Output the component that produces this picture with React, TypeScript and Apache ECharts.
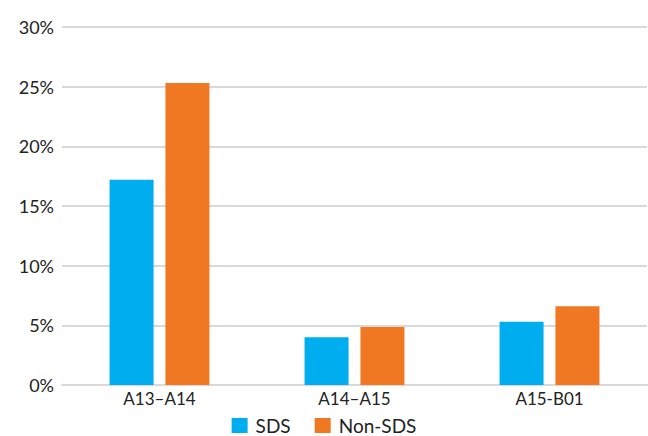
import React, { useEffect, useRef } from "react";
import * as echarts from "echarts";

const categories = ["A13–A14", "A14–A15", "A15-B01"];
const sdsValues = [17.2, 4.0, 5.3];
const nonSdsValues = [25.3, 4.85, 6.6];
const seriesNames = ["SDS", "Non-SDS"];

export default function App() {
  const ref = useRef<HTMLDivElement>(null);
  useEffect(() => {
    document.body.style.margin = "0";
    const chart = echarts.init(ref.current!, null, { renderer: "svg" });
    const font = "Lato, 'Noto Sans', sans-serif";
    chart.setOption({
      animation: false,
      textStyle: { fontFamily: font },
      grid: { left: 62, right: 1, top: 27, bottom: 51, containLabel: false },
      legend: {
        data: seriesNames,
        bottom: 1,
        left: "center",
        padding: 0,
        itemWidth: 16,
        itemHeight: 15,
        itemGap: 24,
        icon: "rect",
        textStyle: { fontSize: 19, lineHeight: 19, color: "#222", fontFamily: font, padding: [0, 0, 0, 3] },
      },
      xAxis: {
        type: "category",
        data: categories,
        axisTick: { show: false },
        axisLine: { lineStyle: { color: "#d9d9d9", width: 2 } },
        axisLabel: { fontSize: 17, color: "#222", margin: 5, fontFamily: font },
      },
      yAxis: {
        type: "value",
        min: 0,
        max: 30,
        interval: 5,
        axisLabel: { formatter: "{value}%", fontSize: 18, color: "#222", margin: 8, fontFamily: font },
        splitLine: { lineStyle: { color: "#d9d9d9", width: 2 } },
        axisLine: { show: false },
        axisTick: { show: false },
      },
      series: [
        {
          name: seriesNames[0],
          type: "bar",
          data: sdsValues,
          barWidth: 44,
          barGap: "27%",
          itemStyle: { color: "#00AEEF" },
        },
        {
          name: seriesNames[1],
          type: "bar",
          data: nonSdsValues,
          barWidth: 44,
          itemStyle: { color: "#F07822" },
        },
      ],
    });
    return () => chart.dispose();
  }, []);
  return <div ref={ref} style={{ width: 648, height: 436 }} />;
}
